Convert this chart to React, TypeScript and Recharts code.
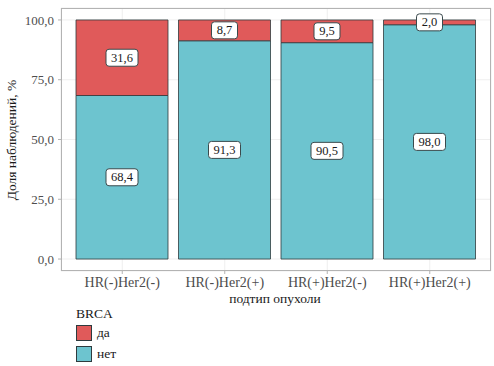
import React from 'react';
import { BarChart, Bar, XAxis, YAxis, CartesianGrid, LabelList } from 'recharts';

const categories = ['HR(-)Her2(-)', 'HR(-)Her2(+)', 'HR(+)Her2(-)', 'HR(+)Her2(+)'];
const daValues = [31.6, 8.7, 9.5, 2.0];
const netValues = [68.4, 91.3, 90.5, 98.0];
const yTicks = [0, 25, 50, 75, 100];
const legendTitle = 'BRCA';
const seriesNames = ['да', 'нет'];

const RED = '#E05A5A';
const CYAN = '#6DC4CF';
const OUTLINE = '#2E3B3E';
const FONT = "'Liberation Serif', 'Times New Roman', Times, 'DejaVu Serif', serif";

const data = categories.map((c, i) => ({ cat: c, da: daValues[i], net: netValues[i] }));

const fmt = (v: number) => v.toFixed(1).replace('.', ',');

const BoxLabel = (props: any) => {
  const { x, y, width, height, value } = props;
  const cx = x + width / 2;
  const cy = y + height / 2;
  const text = fmt(Number(value));
  const w = text.length * 6 + 8;
  const h = 17;
  return (
    <g>
      <rect x={cx - w / 2} y={cy - h / 2} width={w} height={h} rx={3} ry={3}
        fill="#ffffff" stroke="#3a4a4d" strokeWidth={1} />
      <text x={cx} y={cy + 4} textAnchor="middle" style={{ fontFamily: FONT, fontSize: 12.5 }} fill="#1a1a1a">{text}</text>
    </g>
  );
};

const XTitle = () => (
  <text x={275} y={303} textAnchor="middle" style={{ fontFamily: FONT, fontSize: 13.5 }} fill="#1a1a1a">подтип опухоли</text>
);

const YTitle = () => (
  <text x={0} y={0} transform="translate(16,140) rotate(-90)" textAnchor="middle" style={{ fontFamily: FONT, fontSize: 13.5 }} fill="#1a1a1a">Доля наблюдений, %</text>
);

const xTickStyle = { fontFamily: FONT, fontSize: 14, fill: '#4d4d4d' };
const yTickStyle = { fontFamily: FONT, fontSize: 13, fill: '#4d4d4d' };

export default function App() {
  const colors = [RED, CYAN];
  return (
    <div style={{ position: 'absolute', left: 0, top: 0, width: 494, height: 366, background: '#fff', fontFamily: FONT }}>
      <BarChart width={494} height={366} data={data} margin={{ top: 8, right: 3, left: 0, bottom: 0 }}
        barCategoryGap={5} style={{ fontFamily: FONT }}>
        <CartesianGrid stroke="#ebebeb" strokeWidth={0.8} />
        <XAxis dataKey="cat" height={95} padding={{ left: 10, right: 10 }} axisLine={false}
          tickSize={3} tickMargin={3} tickLine={{ stroke: '#b3b3b3' }}
          tick={{ ...xTickStyle, style: { fontFamily: FONT } }}
          interval={0} label={<XTitle />} />
        <YAxis domain={[-5, 105]} ticks={yTicks} width={61} axisLine={false} tickSize={3} tickMargin={4}
          tickLine={{ stroke: '#b3b3b3' }} tickFormatter={fmt} allowDataOverflow
          tick={{ ...yTickStyle, style: { fontFamily: FONT } }} label={<YTitle />} />
        <Bar dataKey="net" stackId="a" fill={CYAN} stroke={OUTLINE} strokeWidth={0.8} barSize={92} isAnimationActive={false}>
          <LabelList dataKey="net" content={<BoxLabel />} />
        </Bar>
        <Bar dataKey="da" stackId="a" fill={RED} stroke={OUTLINE} strokeWidth={0.8} barSize={92} isAnimationActive={false}>
          <LabelList dataKey="da" content={<BoxLabel />} />
        </Bar>
      </BarChart>
      <div style={{ position: 'absolute', left: 61, top: 8, width: 430, height: 263, border: '1px solid #b3b3b3', boxSizing: 'border-box', pointerEvents: 'none' }} />
      <div style={{ position: 'absolute', left: 76, top: 305, fontFamily: FONT, fontSize: 13.5, color: '#1a1a1a' }}>
        <div style={{ height: 17, lineHeight: '17px' }}>{legendTitle}</div>
        {seriesNames.map((n, i) => (
          <div key={n} style={{ display: 'flex', alignItems: 'center', height: 21 }}>
            <div style={{ width: 16, height: 16, background: colors[i], border: `1px solid ${OUTLINE}`, boxSizing: 'border-box' }} />
            <span style={{ marginLeft: 5 }}>{n}</span>
          </div>
        ))}
      </div>
    </div>
  );
}
